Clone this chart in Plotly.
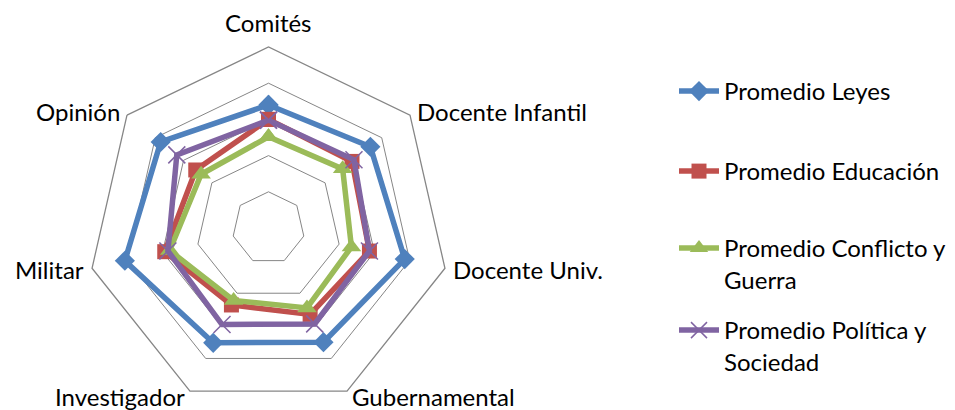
import math
import plotly.graph_objects as go

categories = ["Comités", "Docente Infantil", "Docente Univ.", "Gubernamental",
              "Investigador", "Militar", "Opinión"]
leyes = [3.40, 3.60, 3.86, 3.50, 3.52, 4.07, 3.81]
educacion = [3.00, 2.95, 2.86, 2.65, 2.36, 2.94, 2.57]
conflicto = [2.52, 2.62, 2.35, 2.45, 2.22, 2.80, 2.38]
politica = [2.98, 3.02, 2.86, 2.94, 2.96, 2.85, 3.24]
series_names = ["Promedio Leyes", "Promedio Educación",
                "Promedio Conflicto y<br>Guerra", "Promedio Política y<br>Sociedad"]

FONT = "Lato"
FS = 24
W, H = 955, 410
OFF = 8  # page body margin offset

fig = go.Figure()

specs = [
    (leyes, series_names[0], "#4F81BD", dict(symbol="diamond", size=15.5, color="#4F81BD")),
    (educacion, series_names[1], "#C0504D", dict(symbol="square", size=15, color="#C0504D")),
    (conflicto, series_names[2], "#9BBB59", dict(symbol="triangle-up", size=17, color="#9BBB59")),
    (politica, series_names[3], "#8064A2", dict(symbol="x-thin", size=17, color="#8064A2",
                                                 line=dict(color="#8064A2", width=1.5))),
]
legend_ids = ["legend", "legend2", "legend3", "legend4"]
for (vals, name, col, mk), lid in zip(specs, legend_ids):
    fig.add_trace(go.Scatterpolar(
        r=vals + vals[:1], theta=categories + categories[:1],
        mode="lines+markers", name=name,
        line=dict(color=col, width=5.5),
        marker=mk, legend=lid,
    ))

leg_common = dict(font=dict(family=FONT, size=FS, color="#000000"),
                  bgcolor="rgba(0,0,0,0)", valign="top", xanchor="left",
                  yanchor="top", itemwidth=40)
centers = [91, 171, 248, 330]
layout_legs = {}
for lid, ypx in zip(legend_ids, centers):
    top = ypx - OFF - 22
    layout_legs[lid] = dict(leg_common, x=(674 - OFF) / W, y=1 - top / H)

cx, cy, R = 268.5 - OFF, 228 - OFF, 181

# category labels placed just outside each vertex of the outer polygon
annotations = []
n = len(categories)
for k, cat in enumerate(categories):
    ang = 2 * math.pi * k / n
    s, c = math.sin(ang), math.cos(ang)
    pad = 8 if k == 0 else 6
    px = cx + (R + pad) * s
    py = cy - (R + pad) * c
    if abs(s) < 0.1:
        xa, ya = "center", "bottom"
    else:
        xa, ya = ("left" if s > 0 else "right"), "middle"
    annotations.append(dict(
        text=cat, x=px / W, y=1 - py / H, xref="paper", yref="paper",
        xanchor=xa, yanchor=ya, showarrow=False,
        font=dict(family=FONT, size=FS, color="#000000"),
    ))

fig.update_layout(
    width=W, height=H,
    margin=dict(l=0, r=0, t=0, b=0),
    paper_bgcolor="white",
    font=dict(family=FONT, size=FS, color="#000000"),
    showlegend=True,
    annotations=annotations,
    polar=dict(
        domain=dict(x=[(cx - 190) / W, (cx + 190) / W],
                    y=[(H - (cy + R)) / H, (H - (cy - R)) / H]),
        gridshape="linear",
        bgcolor="white",
        radialaxis=dict(range=[0, 5], tickvals=[1, 2, 3, 4, 5], showticklabels=False,
                        ticks="", showline=False, gridcolor="#868686", gridwidth=1.3),
        angularaxis=dict(direction="clockwise", rotation=90, showgrid=False,
                         linecolor="#868686", linewidth=1.3, ticks="",
                         showticklabels=False),
    ),
    **layout_legs,
)

fig.write_html("out.html")
